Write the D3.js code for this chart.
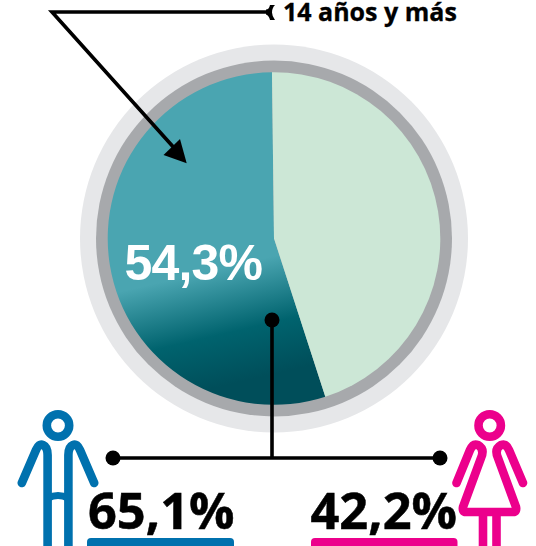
<!DOCTYPE html>
<html><head><meta charset="utf-8">
<script src="https://cdn.jsdelivr.net/npm/d3@7"></script>
<style>html,body{margin:0;padding:0;background:#fff}svg{display:block}</style>
</head><body><div id="c"></div>
<script>
const categories = ["14 años y más", "Resto"];
const seriesValues = [54.8, 45.2];
const sexLabels = ["65,1%", "42,2%"];
const totalLabel = "54,3%";
const titleLabel = "14 años y más";

const W = 536, H = 546, cx = 274, cy = 238.5;
const svg = d3.select("#c").append("svg").attr("width", W).attr("height", H);
const defs = svg.append("defs");
const grad = defs.append("linearGradient").attr("id", "tealGrad")
  .attr("gradientUnits", "userSpaceOnUse")
  .attr("x1", 270 - cx).attr("y1", 257 - cy).attr("x2", 296 - cx).attr("y2", 369 - cy);
[[0, "#4aa5b1"], [0.56, "#00636e"], [1, "#004e5a"]].forEach(([o, c]) =>
  grad.append("stop").attr("offset", o).attr("stop-color", c));

svg.append("circle").attr("cx", cx).attr("cy", cy).attr("r", 194).attr("fill", "#e6e7e9");
svg.append("circle").attr("cx", cx).attr("cy", cy).attr("r", 178).attr("fill", "#a7a9ac");

const rot = -0.7 * Math.PI / 180;
const pie = d3.pie().sort(null).startAngle(rot - (seriesValues[0] / 100) * 2 * Math.PI)
  .endAngle(rot + (seriesValues[1] / 100) * 2 * Math.PI);
const arc = d3.arc().innerRadius(0).outerRadius(166.3);
const fills = ["url(#tealGrad)", "#cce7d6"];
svg.append("g").attr("transform", `translate(${cx},${cy})`)
  .selectAll("path").data(pie(seriesValues)).join("path")
  .attr("d", arc).attr("fill", (d, i) => fills[i]);

svg.append("text").attr("x", 124.5).attr("y", 280)
  .attr("font-family", "Liberation Sans").attr("font-weight", 700).attr("font-size", 50)
  .attr("letter-spacing", -0.8).attr("fill", "#fff").text(totalLabel);

const ink = "#000";
const lines = svg.append("g").attr("fill", "none").attr("stroke", ink).attr("stroke-width", 3.6);
lines.append("path").attr("d", "M268 12H52L176 150").attr("stroke-linejoin", "miter");
svg.append("path").attr("d", "M186.7 163.3L163.5 155L180 139Z").attr("fill", ink);
svg.append("path").attr("d", "M266 9.5Q269 9.5 270 5L275 5Q272 8 272 12.5Q272 16 275 20L270 20Q269 15.5 266 14.5Z").attr("fill", ink);
lines.append("path").attr("d", "M113 458H440M272 320V458");
svg.selectAll("circle.dot").data([[113, 458], [440, 458], [272, 320]]).join("circle")
  .attr("class", "dot").attr("cx", d => d[0]).attr("cy", d => d[1]).attr("r", 7.5).attr("fill", ink);

svg.append("text").attr("x", 283).attr("y", 21)
  .attr("font-family", "Open Sans").attr("font-weight", 700).attr("font-size", 25)
  .attr("stroke", "#000").attr("stroke-width", 0.3).attr("fill", "#000").text(titleLabel);

const blue = "#0071ae", pink = "#ec008c";
// man
const man = svg.append("g").attr("fill", "none").attr("stroke", blue).attr("stroke-linecap", "round").attr("stroke-linejoin", "round");
man.append("circle").attr("cx", 58).attr("cy", 425.5).attr("r", 11.2).attr("stroke-width", 8.6);
man.append("path").attr("stroke-width", 8.6)
  .attr("d", "M21.8 483L36 450Q39 443 43 445Q47.6 447 47.6 455V550M94.2 483L80 450Q77 443 73 445Q68.4 447 68.4 455V550");
man.append("path").attr("stroke-width", 7).attr("stroke-linecap", "butt").attr("d", "M48 498Q58 493 68 498");
// woman
const woman = svg.append("g").attr("fill", "none").attr("stroke", pink).attr("stroke-linecap", "round").attr("stroke-linejoin", "round");
woman.append("circle").attr("cx", 489.7).attr("cy", 425.5).attr("r", 11.2).attr("stroke-width", 8.6);
woman.append("path").attr("stroke-width", 8.6)
  .attr("d", "M456.5 483L470 450Q473 443 478 445Q485 449 481 458L463 507Q462 512 466 512H513Q517 512 516 507L498 458Q494 449 501 445Q506 443 509 450L523 483");
woman.append("path").attr("stroke-width", 8.6).attr("stroke-linecap", "butt").attr("d", "M483 512V550M496.5 512V550");

// percentages & underlines
const labels = svg.append("g").attr("font-family", "Open Sans").attr("font-weight", 700).attr("font-size", 50.5)
  .attr("stroke", "#000").attr("stroke-width", 0.5).attr("fill", "#000");
labels.append("text").attr("x", 88).attr("y", 529).text(sexLabels[0]);
labels.append("text").attr("x", 310.5).attr("y", 529).text(sexLabels[1]);
svg.append("rect").attr("x", 87).attr("y", 538).attr("width", 147).attr("height", 14).attr("rx", 4).attr("fill", blue);
svg.append("rect").attr("x", 311).attr("y", 538).attr("width", 146.5).attr("height", 14).attr("rx", 4).attr("fill", pink);
</script></body></html>
